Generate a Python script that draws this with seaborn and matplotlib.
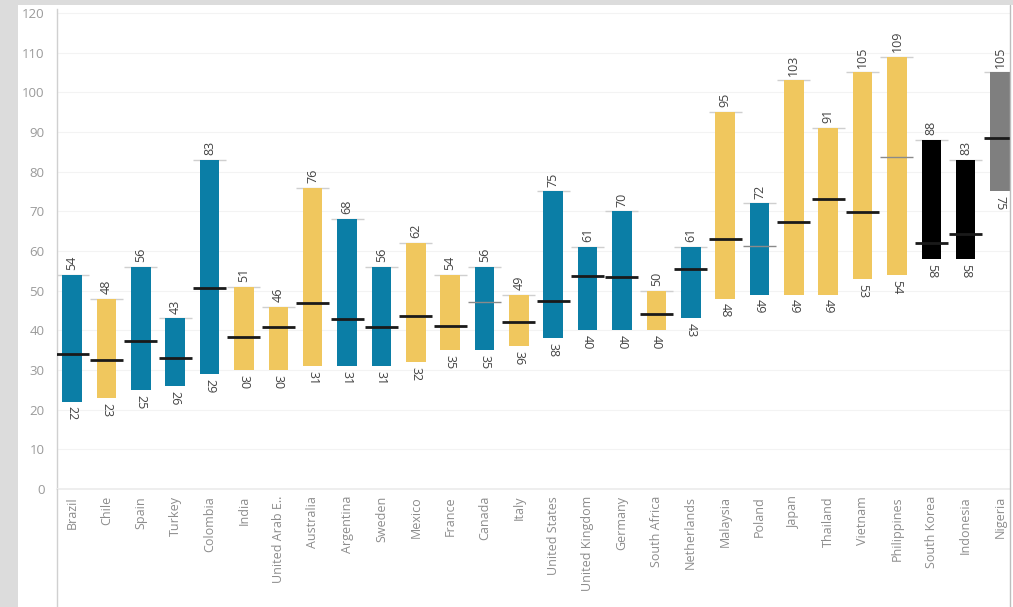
import matplotlib
matplotlib.use("Agg")
import matplotlib.pyplot as plt
import seaborn as sns
import numpy as np

countries = ["Brazil", "Chile", "Spain", "Turkey", "Colombia", "India", "United Arab E..",
             "Australia", "Argentina", "Sweden", "Mexico", "France", "Canada", "Italy",
             "United States", "United Kingdom", "Germany", "South Africa", "Netherlands",
             "Malaysia", "Poland", "Japan", "Thailand", "Vietnam", "Philippines",
             "South Korea", "Indonesia", "Nigeria"]
low = [22, 23, 25, 26, 29, 30, 30, 31, 31, 31, 32, 35, 35, 36, 38, 40, 40, 40, 43,
       48, 49, 49, 49, 53, 54, 58, 58, 75]
high = [54, 48, 56, 43, 83, 51, 46, 76, 68, 56, 62, 54, 56, 49, 75, 61, 70, 50, 61,
        95, 72, 103, 91, 105, 109, 88, 83, 105]
median = [34, 32.5, 37.4, 33, 50.7, 38.2, 40.9, 47, 42.9, 40.9, 43.5, 41.2, 47.2, 42.2,
          47.5, 53.6, 53.4, 44.2, 55.5, 63.1, 61.3, 67.2, 73.2, 69.8, 83.8, 62.1, 64.4, 88.6]
group = ["b", "y", "b", "b", "b", "y", "y", "y", "b", "b", "y", "y", "b", "y", "b", "b",
         "b", "y", "b", "y", "b", "y", "y", "y", "y", "k", "k", "g"]
median_faint = [False, False, False, False, False, False, False, False, False, False,
                False, False, True, False, False, False, False, False, False, False,
                True, False, False, False, True, False, False, False]
yticks = list(range(0, 121, 10))

group_colors = {"b": "#0b7ea6", "y": "#f0c75e", "k": "#000000", "g": "#7f7f7f"}

sns.set_theme(style="white")
plt.rcParams["font.family"] = ["Open Sans", "DejaVu Sans"]

fig = plt.figure(figsize=(10.13, 6.07), dpi=100, facecolor="#dcdcdc")
bg = fig.add_axes([18 / 1013, 0, 1 - 18 / 1013, 1 - 5 / 607], zorder=-5)
bg.set_facecolor("white")
bg.set_xticks([])
bg.set_yticks([])
for s in bg.spines.values():
    s.set_visible(False)

ax = fig.add_axes([57 / 1013, 1 - 489 / 607, (1010 - 57) / 1013, (489 - 9) / 607])
ax.set_facecolor("none")

palette = [group_colors[g] for g in group]
sns.barplot(x=countries, y=high, hue=countries, palette=palette, legend=False,
            width=0.57, saturation=1, ax=ax, order=countries, hue_order=countries)
for patch, lo, hi in zip(ax.patches, low, high):
    patch.set_y(lo)
    patch.set_height(hi - lo)
    patch.set_edgecolor("none")
    patch.set_zorder(2)

xs = np.arange(len(countries))
for x, lo, hi, md, faint in zip(xs, low, high, median, median_faint):
    ax.hlines(hi, x - 0.48, x + 0.48, color="#cfcfcf", lw=1.0, zorder=1)
    if faint:
        ax.hlines(md, x - 0.48, x + 0.48, color="#8a8a8a", lw=1.0, zorder=3)
    else:
        ax.hlines(md, x - 0.48, x + 0.48, color="#1a1a1a", lw=2.0, zorder=3)
    ax.text(x, hi + 1.2, str(hi), rotation=90, ha="center", va="bottom",
            fontsize=9, color="#444444", zorder=4)
    ax.text(x, lo - 1.2, str(lo), rotation=270, ha="center", va="top",
            fontsize=9, color="#444444", zorder=4)

ax.set_xlim(-0.44, 27.29)
ax.set_ylim(0, 121)
ax.set_yticks(yticks)
ax.set_yticklabels([str(t) for t in yticks], fontsize=9.5, color="#9a9a9a")
ax.tick_params(axis="y", length=0, pad=9)
ax.tick_params(axis="x", length=0, pad=5)
ax.set_xticks(xs)
ax.set_xticklabels(countries, rotation=90, fontsize=9, color="#8c8c8c")
for t in yticks:
    ax.axhline(t, color="#f3f3f3", lw=0.8, zorder=0)
for side in ["top", "right"]:
    ax.spines[side].set_visible(False)
ax.spines["left"].set_color("#d0d0d0")
ax.spines["bottom"].set_color("#ececec")
ax.spines["left"].set_linewidth(1.0)
ax.set_xlabel("")
ax.set_ylabel("")
fig.add_artist(plt.Line2D([57 / 1013, 57 / 1013], [0, 1 - 489 / 607],
                          color="#d0d0d0", lw=1.0, transform=fig.transFigure))
fig.add_artist(plt.Line2D([1010 / 1013, 1010 / 1013], [0, 1 - 5 / 607],
                          color="#bdbdbd", lw=1.0, transform=fig.transFigure))

fig.savefig("out.png", dpi=100, facecolor=fig.get_facecolor())
